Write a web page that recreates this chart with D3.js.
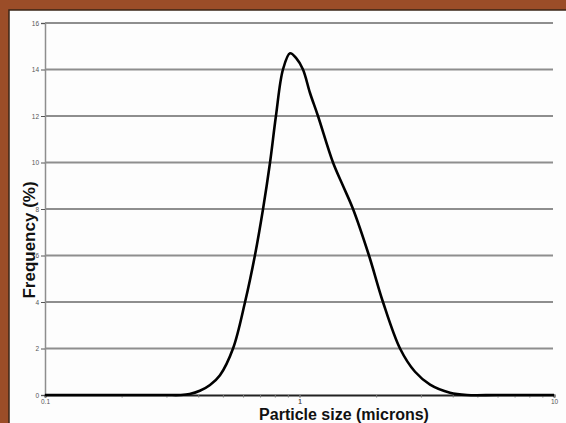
<!DOCTYPE html>
<html><head><meta charset="utf-8">
<script src="https://cdn.jsdelivr.net/npm/d3@7"></script>
<style>html,body{margin:0;padding:0;background:#9b4d28;}svg{display:block;}</style>
</head><body>
<svg id="c" width="566" height="423"></svg>
<script>
// particle sizes (microns) and frequencies (%)
const sizes = [0.1, 0.2, 0.3, 0.34, 0.37, 0.406, 0.445, 0.487, 0.548, 0.611, 0.668, 0.719, 0.766, 0.808, 0.861, 0.918, 0.969, 1.032, 1.099, 1.182, 1.354, 1.482, 1.623, 1.875, 2.128, 2.483, 2.844, 3.258, 3.902, 4.55, 6, 10];
const freqs = [0, 0, 0, 0, 0.04, 0.18, 0.43, 0.85, 2, 4, 6, 8, 10, 12, 14, 14.7, 14.5, 14, 13.0, 12, 10, 9.0, 8, 6, 4, 2, 1.0, 0.45, 0.1, 0, 0, 0];
const yTicks = [0, 2, 4, 6, 8, 10, 12, 14, 16];
const xTickLabels = [0.1, 1, 10];
const xLabel = "Particle size (microns)";
const yLabel = "Frequency (%)";

const svg = d3.select("#c");
svg.append("rect").attr("x", 9).attr("y", 10).attr("width", 560).attr("height", 420)
  .attr("fill", "#fdfdfd").attr("stroke", "#3a2416").attr("stroke-width", 1.5);

const x = d3.scaleLog().domain([0.1, 10]).range([45, 554]);
const y = d3.scaleLinear().domain([0, 16]).range([395, 23]);

// gridlines
svg.append("g").selectAll("line").data(yTicks.filter(d => d > 0)).join("line")
  .attr("x1", 45).attr("x2", 553).attr("y1", d => y(d)).attr("y2", d => y(d))
  .attr("stroke", "#8e8e8e").attr("stroke-width", 1.8);

// y axis
const yAxis = svg.append("g").attr("transform", "translate(45,0)")
  .call(d3.axisLeft(y).tickValues(yTicks).tickSize(4).tickFormat(d3.format("d")));
yAxis.select(".domain").attr("stroke", "#8e8e8e").attr("stroke-width", 1.5);
yAxis.selectAll(".tick line").attr("stroke", "#555");
yAxis.selectAll("text").attr("font-family", "Liberation Sans, Arial, sans-serif").attr("font-size", 6.5).attr("fill", "#555").attr("x", -6);

// x axis
const minor = [];
for (const dec of [0.1, 1]) for (let k = 1; k <= 10; k++) minor.push(+(dec * k).toFixed(3));
const xAxis = svg.append("g").attr("transform", "translate(0,395)")
  .call(d3.axisBottom(x).tickValues(minor).tickSize(2.5).tickFormat(d => xTickLabels.includes(d) ? d3.format("")(d) : ""));
xAxis.select(".domain").attr("stroke", "#222").attr("stroke-width", 2);
xAxis.selectAll(".tick line").attr("stroke", "#777");
xAxis.selectAll("text").attr("font-family", "Liberation Sans, Arial, sans-serif").attr("font-size", 6.5).attr("fill", "#555").attr("y", 4);

// curve
svg.append("path").datum(sizes.map((s, i) => [s, freqs[i]]))
  .attr("fill", "none").attr("stroke", "#000").attr("stroke-width", 2.6).attr("stroke-linejoin", "round")
  .attr("d", d3.line().x(d => x(d[0])).y(d => y(d[1])).curve(d3.curveCatmullRom.alpha(0.5)));

svg.append("text").attr("x", 344).attr("y", 420).attr("text-anchor", "middle")
  .attr("font-family", "Liberation Sans, Arial, sans-serif").attr("font-weight", "bold").attr("font-size", 16)
  .attr("fill", "#111").text(xLabel);
svg.append("text").attr("transform", "translate(35,240) rotate(-90)").attr("text-anchor", "middle")
  .attr("font-family", "Liberation Sans, Arial, sans-serif").attr("font-weight", "bold").attr("font-size", 17)
  .attr("fill", "#111").text(yLabel);
</script>
</body></html>
